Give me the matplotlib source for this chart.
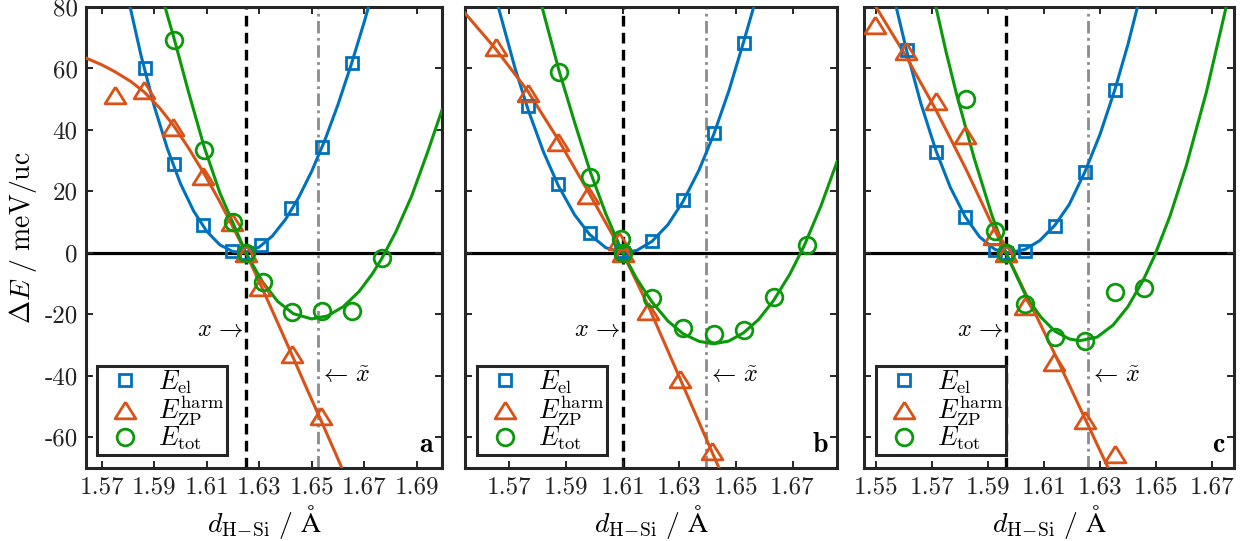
import matplotlib.pyplot as plt
from matplotlib.lines import Line2D

plt.rcParams['font.family'] = 'serif'
plt.rcParams['font.serif'] = ['cmr10', 'DejaVu Serif']
plt.rcParams['mathtext.fontset'] = 'cm'
plt.rcParams['axes.unicode_minus'] = False

BLUE = '#0072bd'
ORANGE = '#d95319'
GREEN = '#0a990a'
FRAME = '#262626'

# ---- panel a ----
A_EL_X = [1.5865, 1.5977, 1.6087, 1.6197, 1.6249, 1.6308, 1.6421, 1.6540, 1.6655]
A_EL_Y = [60.3, 29.0, 9.1, 0.7, 0.0, 2.6, 14.6, 34.5, 61.9]
A_ZP_X = [1.5751, 1.5861, 1.5973, 1.6084, 1.6197, 1.6249, 1.6303, 1.6424, 1.6535]
A_ZP_Y = [51.3, 53.0, 41.0, 25.0, 10.0, 0.0, -11.2, -33.0, -53.1]
A_TOT_X = [1.5977, 1.6090, 1.6199, 1.6249, 1.6313, 1.6426, 1.6540, 1.6655, 1.6769]
A_TOT_Y = [69.3, 33.6, 10.1, 0.0, -9.4, -19.4, -18.8, -18.8, -1.7]
A_FIT_EL_X = [1.5808, 1.5850, 1.5900, 1.5950, 1.6000, 1.6050, 1.6100, 1.6150, 1.6200,
              1.6250, 1.6300, 1.6350, 1.6400, 1.6450, 1.6500, 1.6550, 1.6600, 1.6650,
              1.6700, 1.6716]
A_FIT_EL_Y = [80, 64.1, 47.7, 33.9, 22.5, 13.6, 7.0, 2.6, 0.4, 0.2, 1.9, 5.5, 10.9,
              18.0, 26.6, 36.7, 48.3, 61.2, 75.2, 80]
A_FIT_ZP_X = [1.5637, 1.5700, 1.5751, 1.5810, 1.5861, 1.5920, 1.5973, 1.6030, 1.6087,
              1.6145, 1.6201, 1.6249, 1.6303, 1.6360, 1.6424, 1.6480, 1.6535, 1.6620,
              1.6650]
A_FIT_ZP_Y = [63.5, 61.2, 58.9, 55.8, 52.4, 47.2, 41.5, 34.2, 26.2, 17.4, 8.2, 0.0,
              -10.0, -20.8, -33.1, -44.0, -54.5, -71.0, -77.0]
A_FIT_TOT_X = [1.5941, 1.5977, 1.6030, 1.6090, 1.6150, 1.6201, 1.6249, 1.6313, 1.6370,
               1.6430, 1.6500, 1.6560, 1.6620, 1.6680, 1.6730, 1.6767, 1.6820, 1.6880,
               1.6940, 1.6996]
A_FIT_TOT_Y = [80, 69.3, 52.5, 34.5, 19.5, 9.5, 0.0, -9.5, -15.8, -19.8, -21.5, -20.5,
               -17.5, -12.6, -6.9, -1.8, 6.8, 18.4, 32.5, 46.5]
A_X_EQ = 1.6249
A_X_TILDE = 1.6523
A_XLIM = [1.5640, 1.6996]
A_XTICKS = [1.57, 1.59, 1.61, 1.63, 1.65, 1.67, 1.69]

# ---- panel b ----
B_EL_X = [1.5767, 1.5873, 1.5983, 1.6093, 1.6100, 1.6203, 1.6313, 1.6421, 1.6527]
B_EL_Y = [47.9, 22.5, 6.4, 0.5, 0.0, 3.8, 17.3, 39.0, 68.4]
B_ZP_X = [1.5654, 1.5764, 1.5870, 1.5979, 1.6087, 1.6100, 1.6191, 1.6303, 1.6415]
B_ZP_Y = [67.0, 52.0, 36.2, 18.7, 4.0, 0.0, -18.8, -41.1, -64.5]
B_TOT_X = [1.5876, 1.5985, 1.6094, 1.6100, 1.6203, 1.6313, 1.6421, 1.6527, 1.6633, 1.6751]
B_TOT_Y = [58.7, 24.8, 4.4, 0.0, -14.8, -24.3, -26.4, -25.1, -14.3, 2.6]
B_FIT_EL_X = [1.5660, 1.5720, 1.5767, 1.5820, 1.5873, 1.5930, 1.5983, 1.6040, 1.6100,
              1.6150, 1.6203, 1.6260, 1.6313, 1.6370, 1.6421, 1.6475, 1.6527, 1.6565]
B_FIT_EL_Y = [80.2, 60.0, 46.3, 32.9, 21.8, 12.4, 6.0, 1.7, 0.0, 0.8, 3.7, 9.2, 16.7,
              27.0, 38.4, 52.7, 68.6, 80.7]
B_FIT_ZP_X = [1.5543, 1.5650, 1.5762, 1.5870, 1.5979, 1.6100, 1.6191, 1.6303, 1.6415,
              1.6445]
B_FIT_ZP_Y = [78.0, 66.5, 53.0, 37.2, 19.8, 0.0, -17.4, -41.0, -64.7, -71.0]
B_FIT_TOT_X = [1.5815, 1.5876, 1.5930, 1.5985, 1.6040, 1.6100, 1.6150, 1.6203, 1.6260,
               1.6313, 1.6370, 1.6421, 1.6475, 1.6527, 1.6580, 1.6633, 1.6690, 1.6740,
               1.6800, 1.6857]
B_FIT_TOT_Y = [80, 59, 42.5, 26.5, 12.8, 0.0, -8.5, -15.9, -22.2, -26.3, -28.8, -29.6,
               -28.7, -26.0, -21.7, -15.5, -7.0, 2.1, 15.2, 29.6]
B_X_EQ = 1.6100
B_X_TILDE = 1.6394
B_XLIM = [1.5543, 1.6857]
B_XTICKS = [1.57, 1.59, 1.61, 1.63, 1.65, 1.67]

# ---- panel c ----
C_EL_X = [1.5610, 1.5714, 1.5819, 1.5925, 1.5964, 1.6032, 1.6139, 1.6246, 1.6353]
C_EL_Y = [66.0, 32.8, 11.6, 1.0, 0.0, 0.5, 8.9, 26.3, 53.0]
C_ZP_X = [1.5498, 1.5606, 1.5713, 1.5818, 1.5921, 1.5964, 1.6032, 1.6137, 1.6245, 1.6353]
C_ZP_Y = [74.2, 65.7, 49.4, 38.2, 5.4, 0.0, -17.2, -35.4, -54.5, -65.3]
C_TOT_X = [1.5821, 1.5925, 1.5964, 1.6032, 1.6139, 1.6246, 1.6353, 1.6456]
C_TOT_Y = [50.0, 7.2, 0.0, -16.8, -27.3, -28.7, -12.8, -11.5]
C_FIT_EL_X = [1.5571, 1.5610, 1.5660, 1.5714, 1.5765, 1.5819, 1.5870, 1.5925, 1.5972,
              1.6032, 1.6085, 1.6139, 1.6190, 1.6246, 1.6300, 1.6353, 1.6400, 1.6434]
C_FIT_EL_Y = [80.4, 65.5, 48.7, 33.3, 21.4, 11.7, 5.2, 1.1, 0.0, 1.1, 4.0, 9.0, 15.7,
              26.3, 38.5, 53.0, 67.8, 80.0]
C_FIT_ZP_X = [1.5490, 1.5550, 1.5610, 1.5714, 1.5820, 1.5921, 1.5964, 1.6032, 1.6139,
              1.6246, 1.6345]
C_FIT_ZP_Y = [81.5, 72.5, 63.5, 46.5, 27.5, 8.0, 0.0, -12.8, -33.0, -53.8, -73.0]
C_FIT_TOT_X = [1.5714, 1.5750, 1.5788, 1.5850, 1.5913, 1.5964, 1.6038, 1.6090, 1.6139,
               1.6190, 1.6228, 1.6290, 1.6347, 1.6400, 1.6454, 1.6495, 1.6550, 1.6609,
               1.6680, 1.6751]
C_FIT_TOT_Y = [80, 65.5, 51.5, 31.0, 12.5, 0.0, -14.5, -21.0, -25.5, -28.0, -28.6, -27.4,
               -23.5, -17.5, -9.0, -1.0, 11.9, 28.5, 52.2, 80]
C_X_EQ = 1.5964
C_X_TILDE = 1.6259
C_XLIM = [1.5457, 1.6779]
C_XTICKS = [1.55, 1.57, 1.59, 1.61, 1.63, 1.65, 1.67]

Y_TICKS = [-60, -40, -20, 0, 20, 40, 60, 80]
Y_TICK_LABELS = ['-60', '-40', '-20', '0', '20', '40', '60', '80']
YLIM = [-70, 80]

LABELS = [r'$E_{\mathrm{el}}$', r'$E_{\mathrm{ZP}}^{\mathrm{harm}}$', r'$E_{\mathrm{tot}}$']

# wide MATLAB-like triangle
TRI = [(0, 0.8), (-1, -0.8), (1, -0.8), (0, 0.8)]
MARKERS = [dict(marker='s', ms=8.5, mew=2.0, mfc='none', mec=BLUE),
           dict(marker=TRI, ms=15, mew=2.0, mfc='none', mec=ORANGE),
           dict(marker='o', ms=12, mew=2.0, mfc='none', mec=GREEN)]
COLORS = [BLUE, ORANGE, GREEN]

panels = [
    ('a', [(A_EL_X, A_EL_Y, A_FIT_EL_X, A_FIT_EL_Y),
           (A_ZP_X, A_ZP_Y, A_FIT_ZP_X, A_FIT_ZP_Y),
           (A_TOT_X, A_TOT_Y, A_FIT_TOT_X, A_FIT_TOT_Y)],
     A_X_EQ, A_X_TILDE, A_XLIM, A_XTICKS, [86, 356]),
    ('b', [(B_EL_X, B_EL_Y, B_FIT_EL_X, B_FIT_EL_Y),
           (B_ZP_X, B_ZP_Y, B_FIT_ZP_X, B_FIT_ZP_Y),
           (B_TOT_X, B_TOT_Y, B_FIT_TOT_X, B_FIT_TOT_Y)],
     B_X_EQ, B_X_TILDE, B_XLIM, B_XTICKS, [465, 372]),
    ('c', [(C_EL_X, C_EL_Y, C_FIT_EL_X, C_FIT_EL_Y),
           (C_ZP_X, C_ZP_Y, C_FIT_ZP_X, C_FIT_ZP_Y),
           (C_TOT_X, C_TOT_Y, C_FIT_TOT_X, C_FIT_TOT_Y)],
     C_X_EQ, C_X_TILDE, C_XLIM, C_XTICKS, [864, 370]),
]

W, H = 1245, 541
fig = plt.figure(figsize=(W / 100, H / 100), dpi=100)

for i, (letter, series, x_eq, x_tilde, xlim, xticks, (left, width)) in enumerate(panels):
    ax = fig.add_axes([left / W, 73 / H, width / W, 461 / H])

    ax.axhline(0, color='k', lw=2.3, zorder=1)
    ax.axvline(x_eq, color='k', lw=2.4, ls=(0, (3.2, 1.9)), zorder=1.5)
    ax.axvline(x_tilde, color='#8c8c8c', lw=2.0, ls=(0, (4.5, 1.6, 1.0, 1.6)), zorder=1.5)

    for (px, py, fx, fy), col, mk in zip(series, COLORS, MARKERS):
        ax.plot(fx, fy, color=col, lw=2.2, zorder=3, solid_joinstyle='round')
        ax.plot(px, py, ls='none', zorder=4, **mk)

    ax.text(x_eq - 0.0007, -25, r'$x\,\rightarrow$', ha='right', va='center', fontsize=17.5)
    ax.text(x_tilde + 0.0003, -40, r'$\leftarrow\,\tilde{x}$', ha='left', va='center',
            fontsize=17.5)
    ax.text(0.978, 0.022, r'$\mathbf{%s}$' % letter, transform=ax.transAxes,
            ha='right', va='bottom', fontsize=20)

    ax.set_xlim(xlim)
    ax.set_ylim(YLIM)
    ax.set_xticks(xticks)
    ax.set_xticklabels(['%.2f' % t for t in xticks])
    ax.set_yticks(Y_TICKS)
    if i == 0:
        ax.set_yticklabels(Y_TICK_LABELS)
        ax.set_ylabel(r'$\Delta E\ /\ \mathrm{meV/uc}$', fontsize=20, labelpad=4)
    else:
        ax.set_yticklabels([])
    ax.set_xlabel(r'$d_{\mathrm{H}\!-\!\mathrm{Si}}\ /\ \mathrm{\AA}$', fontsize=20,
                  labelpad=3)

    ax.tick_params(direction='in', length=5, width=1.4, top=True, right=True,
                   labelsize=18, colors=FRAME, labelcolor='#222222', pad=6)
    for sp in ax.spines.values():
        sp.set_linewidth(2.2)
        sp.set_color(FRAME)

    handles = [Line2D([], [], ls='none', **mk) for mk in MARKERS]
    leg = ax.legend(handles, LABELS, loc='lower left', bbox_to_anchor=(0.032, 0.028),
                    borderaxespad=0, fontsize=19, handlelength=1.9, handletextpad=0.3,
                    borderpad=0.1, labelspacing=-0.1, fancybox=False, framealpha=1)
    leg.get_frame().set_edgecolor(FRAME)
    leg.get_frame().set_linewidth(2.2)

fig.savefig('out.png', dpi=100)
